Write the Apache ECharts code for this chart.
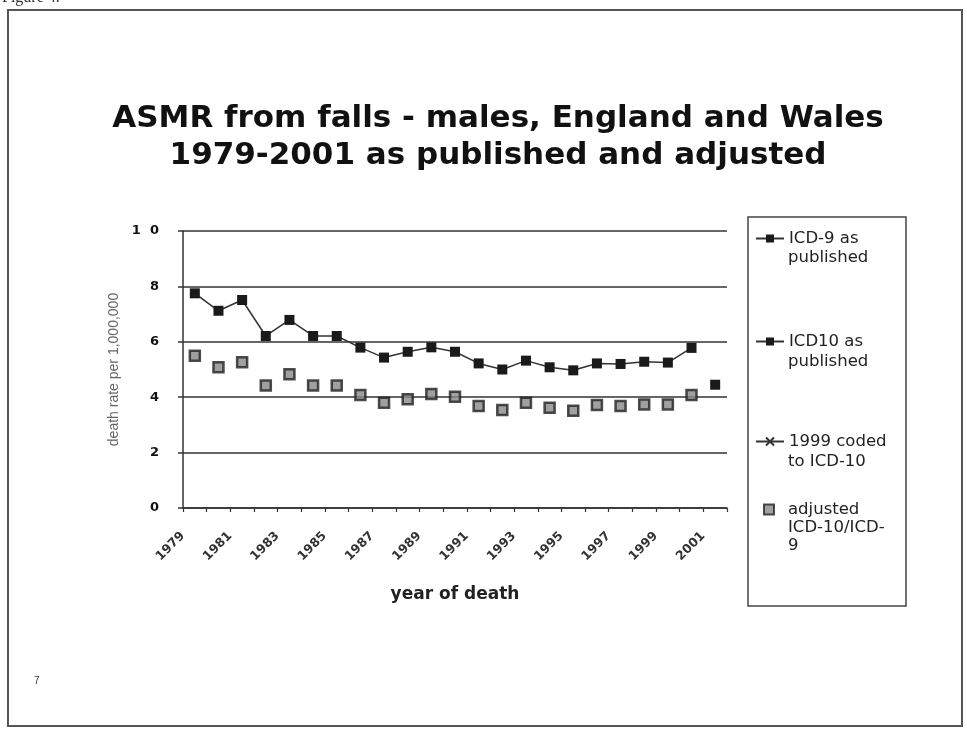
<!DOCTYPE html>
<html>
<head>
<meta charset="utf-8">
<script src="https://cdn.jsdelivr.net/npm/echarts@6/dist/echarts.min.js"></script>
<style>html,body{margin:0;padding:0;background:#fff;}#c{width:967px;height:729px;}</style>
</head>
<body>
<div id="c"></div>
<script>
const years = ['1979','1980','1981','1982','1983','1984','1985','1986','1987','1988','1989','1990','1991','1992','1993','1994','1995','1996','1997','1998','1999','2000','2001'];
const icd9Published = [7.75,7.12,7.51,6.21,6.79,6.21,6.21,5.79,5.43,5.64,5.8,5.64,5.22,5.0,5.32,5.08,4.97,5.22,5.2,5.28,5.25,5.78,null];
const icd10Published = [null,null,null,null,null,null,null,null,null,null,null,null,null,null,null,null,null,null,null,null,null,null,4.45];
const coded1999 = [null,null,null,null,null,null,null,null,null,null,null,null,null,null,null,null,null,null,null,null,null,null,null];
const adjusted = [5.5,5.08,5.26,4.42,4.83,4.42,4.42,4.08,3.8,3.93,4.12,4.02,3.68,3.54,3.8,3.62,3.51,3.72,3.68,3.74,3.74,4.08,null];
const yTicks = [0,2,4,6,8,10];
const names = ['ICD-9 as published','ICD10 as published','1999 coded to ICD-10','adjusted ICD-10/ICD-9'];

const chart = echarts.init(document.getElementById('c'));
const dark = '#1a1a1a';
const LF = '"DejaVu Sans", Arial';
const legendText = {fontFamily:LF, fontSize:16.5, color:'#222'};
function legendAt(name, top, firstLine, icon, left){
  const d = icon ? [{name:name, icon:icon}] : [name];
  return {show:true, data:d, left:left || 755, top:top, orient:'vertical', itemWidth:28, itemHeight:10,
    itemGap:0, padding:0, textStyle:legendText, formatter:()=>firstLine, selectedMode:false};
}
function line2(text, top){
  return {type:'text', left:788, top:top, style:{text:text, font:'16.5px "DejaVu Sans", Arial', fill:'#222'}};
}
chart.setOption({
  animation:false,
  backgroundColor:'#fff',
  title:{text:'ASMR from falls - males, England and Wales\n1979-2001 as published and adjusted', left:493, top:95, textAlign:'center',
    textStyle:{fontFamily:LF, fontWeight:'bold', fontSize:31, lineHeight:37, color:'#111'}},
  grid:{left:183, right:240, top:231, bottom:221, containLabel:false},
  legend:[
    legendAt(names[0], 230, 'ICD-9 as'),
    legendAt(names[1], 333, 'ICD10 as'),
    legendAt(names[2], 433, '1999 coded'),
    legendAt(names[3], 501, 'adjusted', 'path://M0,0H10V10H0Z', 763)
  ],
  xAxis:{type:'category', data:years, boundaryGap:true,
    name:'year of death', nameLocation:'middle', nameGap:78,
    nameTextStyle:{fontFamily:LF, fontWeight:'bold', fontSize:17, color:'#222'},
    axisLine:{lineStyle:{color:'#333', width:1.5}},
    axisTick:{show:true, interval:0, length:4, lineStyle:{color:'#333', width:1.2}},
    axisLabel:{interval:1, rotate:45, margin:14, padding:[0,17,0,0], fontFamily:LF, fontSize:12.5, fontWeight:'bold', color:'#333'},
    splitLine:{show:false}},
  yAxis:{type:'value', min:0, max:10, interval:2,
    name:'death rate per 1,000,000', nameLocation:'middle', nameGap:62, nameRotate:90,
    nameTextStyle:{fontFamily:'"Liberation Sans", Arial', fontSize:14, color:'#666'},
    axisLine:{show:true, lineStyle:{color:'#333', width:1.5}},
    axisTick:{show:true, length:5, lineStyle:{color:'#333', width:1.5}},
    axisLabel:{margin:24, fontFamily:LF, fontWeight:'bold', fontSize:13, color:'#111',
      formatter:v=> yTicks.includes(v) ? (v===10 ? '1  0' : String(v)) : ''},
    splitLine:{show:true, lineStyle:{color:'#333', width:1.5}}},
  series:[
    {name:names[0], type:'line', data:icd9Published, symbol:'rect', symbolSize:10, connectNulls:false,
      itemStyle:{color:dark}, lineStyle:{color:'#333', width:1.5}},
    {name:names[1], type:'line', data:icd10Published, symbol:'rect', symbolSize:10,
      itemStyle:{color:dark}, lineStyle:{color:'#333', width:1.5}},
    {name:names[2], type:'line', data:coded1999, symbol:'path://M0,0L10,10M10,0L0,10', symbolSize:8,
      itemStyle:{color:'#333', borderColor:'#333', borderWidth:1.5}, lineStyle:{color:'#333', width:1.5}},
    {name:names[3], type:'scatter', data:adjusted, symbol:'rect', symbolSize:10,
      itemStyle:{color:'#888', borderColor:'#222', borderWidth:2.5}}
  ],
  graphic:[
    {type:'rect', shape:{x:8, y:10, width:954, height:716}, style:{fill:null, stroke:'#555', lineWidth:2}, z:-1},
    {type:'rect', shape:{x:748, y:217, width:158, height:389}, style:{fill:'#fff', stroke:'#444', lineWidth:1.5}, z:-1},
    line2('published', 249),
    line2('published', 353),
    line2('to ICD-10', 453),
    line2('ICD-10/ICD-', 519),
    line2('9', 537),
    {type:'text', left:34, top:676, style:{text:'7', font:'10px "Liberation Sans", Arial', fill:'#333'}},
    {type:'text', left:2, top:-10, style:{text:'Figure 4.', font:'16px "Liberation Serif", serif', fill:'#333'}}
  ]
});
</script>
</body>
</html>
